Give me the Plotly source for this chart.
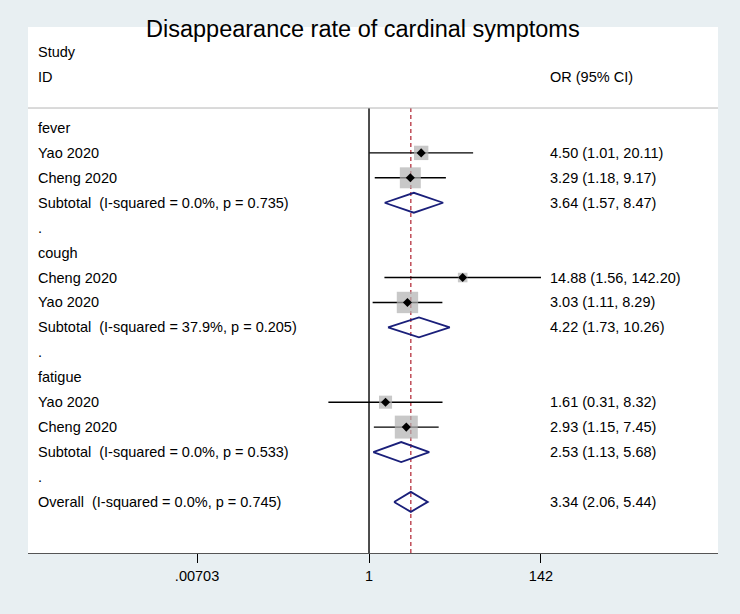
import plotly.graph_objects as go

# study level data
study_names = ["Yao 2020", "Cheng 2020", "Cheng 2020", "Yao 2020", "Yao 2020", "Cheng 2020"]
study_group = ["fever", "fever", "cough", "cough", "fatigue", "fatigue"]
study_or = [4.50, 3.29, 14.88, 3.03, 1.61, 2.93]
study_lo = [1.01, 1.18, 1.56, 1.11, 0.31, 1.15]
study_hi = [20.11, 9.17, 142.20, 8.29, 8.32, 7.45]
study_weight = [10.9, 23.2, 4.8, 24.1, 9.0, 27.9]  # % weight

# subgroup pooled estimates
groups = ["fever", "cough", "fatigue"]
sub_or = [3.64, 4.22, 2.53]
sub_lo = [1.57, 1.73, 1.13]
sub_hi = [8.47, 10.26, 5.68]
sub_i2 = [0.0, 37.9, 0.0]
sub_p = [0.735, 0.205, 0.533]

# overall
overall_or = 3.34
overall_lo = 2.06
overall_hi = 5.44
overall_i2 = 0.0
overall_p = 0.745

tick_vals = [0.00703, 1, 142]
tick_text = [".00703", "1", "142"]

FONT = "Liberation Sans, Arial, sans-serif"
NAVY = "#1a1f7a"
DH = 0.4  # half height of diamonds (rows)

# build rows
labels, right_txt, rows_y = [], [], []
st_y, sub_y = [], []
row = 1
for g_i, g in enumerate(groups):
    labels.append(g); right_txt.append(""); rows_y.append(row); row += 1
    for i, name in enumerate(study_names):
        if study_group[i] == g:
            labels.append(name)
            right_txt.append(f"{study_or[i]:.2f} ({study_lo[i]:.2f}, {study_hi[i]:.2f})")
            rows_y.append(row)
            st_y.append((i, row))
            row += 1
    labels.append(f"Subtotal\u00a0 (I-squared = {sub_i2[g_i]:.1f}%, p = {sub_p[g_i]:.3f})")
    right_txt.append(f"{sub_or[g_i]:.2f} ({sub_lo[g_i]:.2f}, {sub_hi[g_i]:.2f})")
    rows_y.append(row)
    sub_y.append(row)
    row += 1
    labels.append("."); right_txt.append(""); rows_y.append(row); row += 1
labels.append(f"Overall\u00a0 (I-squared = {overall_i2:.1f}%, p = {overall_p:.3f})")
right_txt.append(f"{overall_or:.2f} ({overall_lo:.2f}, {overall_hi:.2f})")
rows_y.append(row)
overall_y = row

Y_TOP, Y_BOT = -3.05, 18.05

fig = go.Figure()

# confidence intervals
ci_x, ci_y = [], []
for i, r in st_y:
    ci_x += [study_lo[i], study_hi[i], None]
    ci_y += [r, r, None]
fig.add_trace(go.Scatter(x=ci_x, y=ci_y, mode="lines",
                         line=dict(color="black", width=1.4), hoverinfo="skip"))

# weight boxes
order = [i for i, _ in st_y]
fig.add_trace(go.Scatter(
    x=[study_or[i] for i in order], y=[r for _, r in st_y], mode="markers",
    marker=dict(symbol="square", color="#b0b0b0",
                size=[4.35 * study_weight[i] ** 0.5 for i in order],
                line=dict(width=0))))
fig.add_trace(go.Scatter(
    x=[study_or[i] for i in order], y=[r for _, r in st_y], mode="markers",
    marker=dict(symbol="diamond", color="black", size=7, line=dict(width=0))))

# diamonds
dx, dy = [], []
for k, r in enumerate(sub_y):
    dx += [sub_lo[k], sub_or[k], sub_hi[k], sub_or[k], sub_lo[k], None]
    dy += [r, r - DH, r, r + DH, r, None]
dx += [overall_lo, overall_or, overall_hi, overall_or, overall_lo]
dy += [overall_y, overall_y - DH, overall_y, overall_y + DH, overall_y]
fig.add_trace(go.Scatter(x=dx, y=dy, mode="lines",
                         line=dict(color=NAVY, width=1.8), hoverinfo="skip"))

# reference lines
fig.add_shape(type="line", xref="x", yref="y", x0=1, x1=1, y0=0.2, y1=Y_BOT,
              line=dict(color="black", width=1.4), layer="below")
fig.add_shape(type="line", xref="x", yref="y", x0=overall_or, x1=overall_or, y0=0.2, y1=Y_BOT,
              line=dict(color="#b0202e", width=1.2, dash="4px,3px"), layer="below")
fig.add_shape(type="line", xref="paper", yref="y", x0=0, x1=1, y0=0.2, y1=0.2,
              line=dict(color="#b5b5b5", width=1))

# text columns
ann = []
for lab, rt, y in zip(labels, right_txt, rows_y):
    ann.append(dict(x=0.011, y=y, xref="paper", yref="y", text=lab, showarrow=False,
                    xanchor="left", yanchor="middle", font=dict(family=FONT, size=14.5, color="black")))
    if rt:
        ann.append(dict(x=0.753, y=y, xref="paper", yref="y", text=rt, showarrow=False,
                        xanchor="left", yanchor="middle", font=dict(family=FONT, size=14.5, color="black")))
for txt, x, y in [("Study", 0.011, -2.05), ("ID", 0.011, -1.05), ("OR (95% CI)", 0.754, -1.05)]:
    ann.append(dict(x=x, y=y, xref="paper", yref="y", text=txt, showarrow=False,
                    xanchor="left", yanchor="middle", font=dict(family=FONT, size=14.5, color="black")))
ann.append(dict(x=0.486, y=0.996, xref="paper", yref="paper", text="Disappearance rate of cardinal symptoms",
                showarrow=False, xanchor="center", yanchor="middle",
                font=dict(family=FONT, size=23.5, color="black")))

fig.update_layout(
    width=740, height=614,
    margin=dict(l=28, r=22, t=27, b=61),
    paper_bgcolor="#e8eff2", plot_bgcolor="white",
    showlegend=False,
    annotations=ann,
    font=dict(family=FONT, size=14.5, color="black"),
    xaxis=dict(type="log", range=[-4.269, 4.369], tickvals=tick_vals, ticktext=tick_text,
               showgrid=False, zeroline=False, showline=True, linecolor="#555555", linewidth=1.2,
               ticks="outside", ticklen=9, tickwidth=1.2, tickcolor="black",
               tickfont=dict(family=FONT, size=14.5, color="black")),
    yaxis=dict(range=[Y_BOT, Y_TOP], showgrid=False, zeroline=False, showline=False,
               showticklabels=False, ticks=""),
)

fig.write_html("out.html", config={"displayModeBar": False},
               post_script="document.body.style.margin='0';document.body.style.background='#e8eff2';")
